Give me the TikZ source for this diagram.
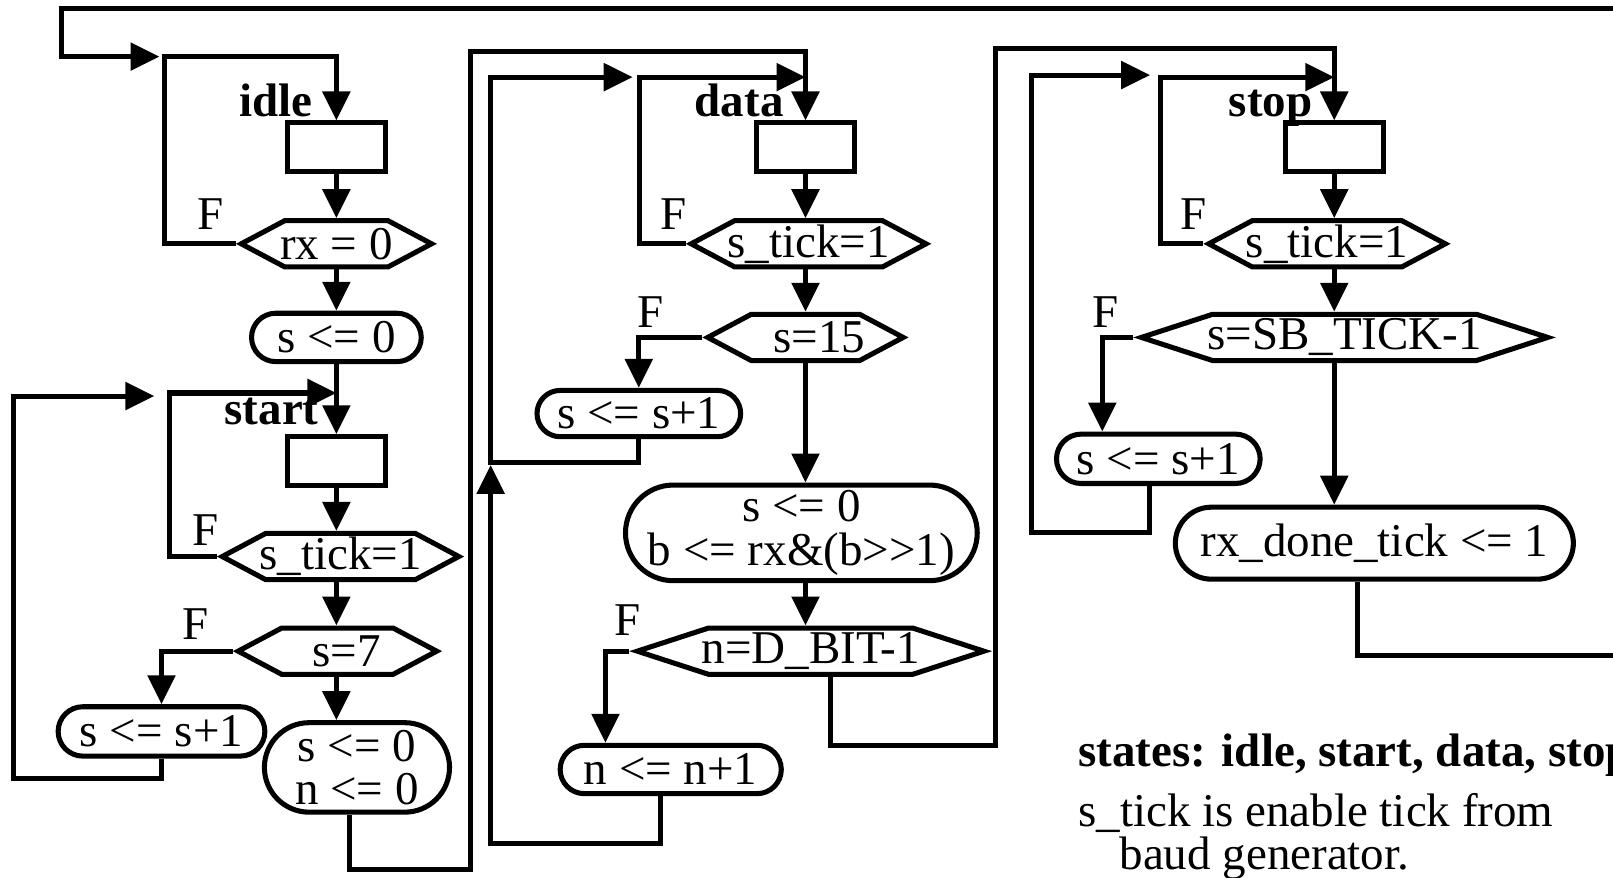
\documentclass[tikz,border=0pt]{standalone}
\usepackage{fontspec}
\setmainfont{Liberation Serif}
\usetikzlibrary{arrows.meta,shapes.symbols}

\begin{document}
\begin{tikzpicture}[x=0.02cm,y=-0.02cm,line width=2.8pt,
  font=\fontsize{26}{24}\selectfont,
  arr/.style={-{Triangle[length=16pt,width=15pt]}},
  box/.style={draw,rectangle,minimum width=1.9cm,minimum height=0.94cm},
  hex/.style={draw,signal,signal to=west and east,signal pointer angle=#1,
    minimum height=0.9cm,inner ysep=0pt,inner xsep=-4pt},
  hex/.default=56,
  rbox/.style={draw,rectangle,rounded corners=#1,inner sep=0pt,align=center},
  rbox/.default=0.47cm,
  lbl/.style={font=\fontsize{26}{24}\selectfont\bfseries,anchor=base east}]
  \useasboundingbox (0,0) rectangle (1568,853);
  \clip (0,0) rectangle (1568,853);

  % idle
  \node[box] (idle) at (327,143) {};
  \node[lbl] (idlel) at (312,113) {idle};
  \node[hex, minimum width=3.7cm] (rx) at (327,237) {rx = 0};
  \node (f1) at (205,208) {F};
  \node[rbox, minimum width=3.3cm, minimum height=0.94cm] (s0) at (327,328) {s <= 0};

  % start
  \node[box] (start) at (327,448) {};
  \node[lbl] (startl) at (318,413) {start};
  \node[hex, minimum width=4.6cm] (tk1) at (331,541) {s\_tick=1};
  \node (f2) at (200,515) {F};
  \node[hex, minimum width=3.86cm] (s7) at (328,633) {\hspace{0.4em}s=7};
  \node (f3) at (190,607) {F};
  \node[rbox=0.48cm, minimum width=4.02cm, minimum height=0.96cm] (inc1) at (157,711) {s <= s+1};
  \node[rbox=0.87cm, minimum width=3.6cm, minimum height=1.74cm] (clr1) at (347,746) {s <= 0\\n <= 0};

  % data
  \node[box] (data) at (783,143) {};
  \node[lbl] (datal) at (770,113) {data};
  \node[hex, minimum width=4.56cm] (tk2) at (786,237) {s\_tick=1};
  \node (f4) at (655,208) {F};
  \node[hex, minimum width=3.8cm] (s15) at (783,328) {\hspace{0.6em}s=15};
  \node (f5) at (632,303) {F};
  \node[rbox=0.45cm, minimum width=3.96cm, minimum height=0.9cm] (inc2) at (621,402) {s <= s+1};
  \node[rbox=0.93cm, minimum width=6.84cm, minimum height=1.86cm] (shift) at (779,518) {s <= 0\\b <= rx\&(b>\kern0pt>1)};
  \node[hex=36, minimum width=6.74cm] (nbit) at (788,633) {n=D\_BIT-1};
  \node (f6) at (610,603) {F};
  \node[rbox, minimum width=4.3cm, minimum height=0.94cm] (incn) at (652,748) {n <= n+1};

  % stop
  \node[box] (stop) at (1297,143) {};
  \node[lbl] (stopl) at (1284,113) {stop};
  \node[hex, minimum width=4.6cm] (tk3) at (1290,237) {s\_tick=1};
  \node (f7) at (1160,208) {F};
  \node[hex=36, minimum width=7.9cm] (sb) at (1307,328) {s=SB\_TICK-1};
  \node (f8) at (1075,303) {F};
  \node[rbox=0.48cm, minimum width=3.96cm, minimum height=0.96cm] (inc3) at (1126,446) {s <= s+1};
  \node[rbox=0.7cm, minimum width=7.74cm, minimum height=1.4cm] (done) at (1336,528) {rx\_done\_tick <= 1};

  % notes
  \node[anchor=base west, font=\fontsize{26}{24}\selectfont\bfseries] (note1) at (1040,745) {states: idle, start, data, stop};
  \node[anchor=base west] (note2) at (1040,803) {s\_tick is enable tick from};
  \node[anchor=base west] (note3) at (1080,845) {baud generator.};

  % entry points
  \coordinate (in1) at (155,55);
  \coordinate (in2) at (150,385);
  \coordinate (in3) at (615,75);
  \coordinate (in4) at (1118,73);
  \coordinate (up1) at (477,452);

  % idle
  \draw[arr] (idle.south) -- (idle.south |- rx.north);
  \draw[arr] (idle.south |- rx.south) -- (idle.south |- s0.north);
  \draw[arr] (idle.south |- s0.south) -- (idle.south |- start.north);
  \draw[arr] (rx.west) -| (160,55) -| (idle.north);
  \draw[arr] ([xshift=-0.32cm]done.south) |- (1620,637) |- (60,8) -- (60,55) -- (in1);

  % start
  \draw[arr] (start.south) -- (start.south |- tk1.north);
  \draw[arr] (tk1.west) -| (165,382) -- (327,382);
  \draw[arr] (start.south |- tk1.south) -- (start.south |- s7.north);
  \draw[arr] (s7.west) -| (inc1.north);
  \draw[arr] (start.south |- s7.south) -- (start.south |- clr1.north);
  \draw[arr] (inc1.south) |- (13,757) -- (13,385) -- (in2);
  \draw[arr] ([xshift=-0.14cm]clr1.south) |- (457,845) |- (783,50) -- (data.north);

  % data
  \draw[arr] (data.south) -- (data.south |- tk2.north);
  \draw[arr] (tk2.west) -| (622,75) -- (783,75);
  \draw[arr] (data.south |- tk2.south) -- (data.south |- s15.north);
  \draw[arr] (s15.west) -| (inc2.north);
  \draw[arr] (inc2.south) |- (477,450) -- (477,75) -- (in3);
  \draw[arr] (data.south |- s15.south) -- (data.south |- shift.north);
  \draw[arr] (data.south |- shift.south) -- (data.south |- nbit.north);
  \draw[arr] (nbit.west) -- ++(-23,0) coordinate (fa) -- (fa |- incn.north);
  \draw[arr] ([xshift=-0.2cm]incn.south) |- (477,820) -- (up1);
  \draw[arr] ([xshift=0.38cm]nbit.south) |- (968,725) |- (1297,47) -- (stop.north);

  % stop
  \draw[arr] (stop.south) -- (stop.south |- tk3.north);
  \draw[arr] (tk3.west) -| (1128,75) -- (1297,75);
  \draw[arr] (stop.south |- tk3.south) -- (stop.south |- sb.north);
  \draw[arr] (sb.west) -- ++(-30,0) coordinate (fb) -- (fb |- inc3.north);
  \draw[arr] ([xshift=-0.18cm]inc3.south) |- (1003,518) -- (1003,73) -- (in4);
  \draw[arr] (stop.south |- sb.south) -- (stop.south |- done.north);
\end{tikzpicture}
\end{document}
